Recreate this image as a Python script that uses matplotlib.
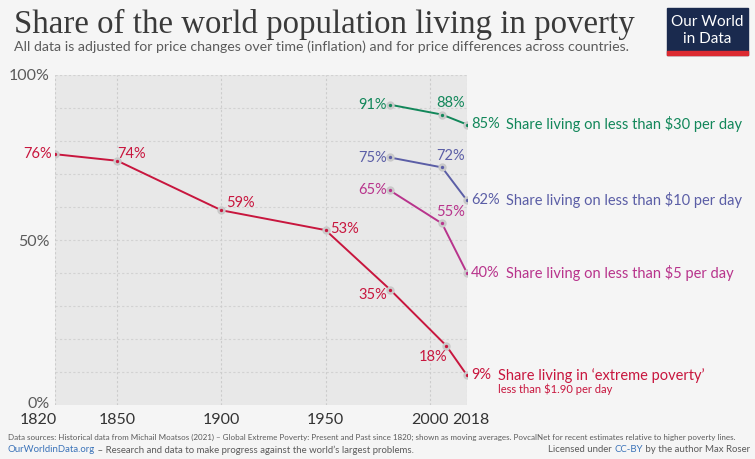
import matplotlib.pyplot as plt
import matplotlib.transforms as mtransforms
from matplotlib.patches import Rectangle

# data
years_extreme = [1820, 1850, 1900, 1950, 1981, 2008, 2018]
extreme = [76, 74, 59, 53, 35, 18, 9]

years_recent = [1981, 2006, 2018]
below30 = [91, 88, 85]
below10 = [75, 72, 62]
below5 = [65, 55, 40]

xticks = [1820, 1850, 1900, 1950, 2000, 2018]
yticks = [0, 50, 100]
ytick_labels = ['0%', '50%', '100%']

red = '#c8163e'
green = '#12875a'
blue = '#5b5ea6'
pink = '#b8348c'
grey_txt = '#5b5b5b'

plt.rcParams['font.family'] = ['Lato', 'DejaVu Sans']

fig = plt.figure(figsize=(7.55, 4.59), dpi=100)
fig.patch.set_facecolor('#f5f5f5')
ax = fig.add_axes([55/755, 54/459, 412/755, 330/459])
ax.set_facecolor('#e8e8e8')

ax.set_xlim(1820, 2018)
ax.set_ylim(0, 100)
for s in ax.spines.values():
    s.set_visible(False)

# dotted grid
for y in range(10, 101, 10):
    ax.axhline(y, color='#d2d2d2', lw=0.8, ls=(0, (2, 2)), zorder=0)
for x in xticks:
    ax.axvline(x, color='#cccccc', lw=0.8, ls=(0, (2, 2)), zorder=0)

ax.set_xticks(xticks)
ax.set_xticklabels([str(x) for x in xticks], fontsize=11.5, color='#333333')
ax.set_yticks(yticks)
ax.set_yticklabels(ytick_labels, fontsize=11.5, color=grey_txt)
ax.tick_params(axis='x', length=0, pad=5.5)
ax.tick_params(axis='y', length=0, pad=4)

# first year label sits left of its tick, last one nudged right
xlabs = ax.get_xticklabels()
xlabs[0].set_ha('right')
xlabs[0].set_transform(xlabs[0].get_transform()
                       + mtransforms.ScaledTranslation(2/100, 0, fig.dpi_scale_trans))
xlabs[-1].set_transform(xlabs[-1].get_transform()
                        + mtransforms.ScaledTranslation(4/100, 0, fig.dpi_scale_trans))
# lift the 0% label a little off the bottom
ylabs = ax.get_yticklabels()
ylabs[0].set_transform(ylabs[0].get_transform()
                       + mtransforms.ScaledTranslation(0, 2/100, fig.dpi_scale_trans))


def serie(x, y, c):
    ax.plot(x, y, color=c, lw=1.4, zorder=3)
    ax.plot(x, y, 'o', ms=6, mfc='#c9c9c9', mec='none', zorder=4)
    ax.plot(x, y, 'o', ms=2.4, color=c, mec='none', zorder=5)


def etiqueta(x, y, txt, c, dx, dy, ha='left', va='center', size=10.5):
    ax.annotate(txt, (x, y), xytext=(dx, dy), textcoords='offset points',
                ha=ha, va=va, color=c, fontsize=size, annotation_clip=False)


serie(years_extreme, extreme, red)
serie(years_recent, below30, green)
serie(years_recent, below10, blue)
serie(years_recent, below5, pink)

# value labels, extreme poverty
pos_extreme = [(-2, 0, 'right'), (0, 5, 'left'), (3, 5, 'left'), (3, 1, 'left'),
               (-2, -4, 'right'), (1, -8, 'right'), (3, 0, 'left')]
for x, y, p in zip(years_extreme, extreme, pos_extreme):
    etiqueta(x, y, f'{y}%', red, p[0], p[1], p[2])

for vals, c in [(below30, green), (below10, blue), (below5, pink)]:
    etiqueta(years_recent[0], vals[0], f'{vals[0]}%', c, -2, 0, 'right')
    etiqueta(years_recent[1], vals[1], f'{vals[1]}%', c, 6, 8, 'center')
    etiqueta(years_recent[2], vals[2], f'{vals[2]}%', c, 3, 0, 'left')

# series names on the right
etiqueta(2018, below30[-1], 'Share living on less than $30 per day', green, 28, 0)
etiqueta(2018, below10[-1], 'Share living on less than $10 per day', blue, 28, 0)
etiqueta(2018, below5[-1], 'Share living on less than $5 per day', pink, 28, 0)
etiqueta(2018, extreme[-1], 'Share living in \u2018extreme poverty\u2019', red, 22, 0)
etiqueta(2018, extreme[-1], 'less than $1.90 per day', red, 22, -10, size=8)

# title and subtitle
fig.text(14/755, 1 - 24/459, 'Share of the world population living in poverty',
         family='Liberation Serif', fontsize=23.7, color='#3a3a3a', va='center')
fig.text(14/755, 1 - 47/459,
         'All data is adjusted for price changes over time (inflation) and for price differences across countries.',
         fontsize=10.2, color=grey_txt, va='center')

# logo
fig.add_artist(Rectangle((667/755, 1 - 55/459), 81/755, 47/459,
                         transform=fig.transFigure, color='#1a2a4e'))
fig.add_artist(Rectangle((667/755, 1 - 55/459), 81/755, 4/459,
                         transform=fig.transFigure, color='#dc2a31'))
fig.text(707/755, 1 - 22/459, 'Our World', color='white', fontsize=11,
         ha='center', va='center')
fig.text(707/755, 1 - 39/459, 'in Data', color='white', fontsize=11,
         ha='center', va='center')

# footer
fig.text(8/755, 1 - 437/459,
         'Data sources: Historical data from Michail Moatsos (2021) \u2013 Global Extreme Poverty: Present and Past since 1820; '
         'shown as moving averages. PovcalNet for recent estimates relative to higher poverty lines.',
         fontsize=5.75, color=grey_txt, va='center')
t1 = fig.text(8/755, 1 - 450/459, 'OurWorldinData.org', fontsize=6.9,
              color='#3b73b9', va='center')
ax.annotate(' \u2013 Research and data to make progress against the world\u2019s largest problems.',
            xy=(1, 0.5), xycoords=t1, va='center', fontsize=6.9, color=grey_txt,
            annotation_clip=False)
t2 = fig.text(750/755, 1 - 450/459, ' by the author Max Roser', fontsize=6.9,
              color=grey_txt, va='center', ha='right')
t3 = ax.annotate('CC-BY', xy=(0, 0.5), xycoords=t2, va='center', ha='right',
                 fontsize=6.9, color='#3b73b9', annotation_clip=False)
ax.annotate('Licensed under ', xy=(0, 0.5), xycoords=t3, va='center', ha='right',
            fontsize=6.9, color=grey_txt, annotation_clip=False)

fig.savefig('out.png', dpi=100, facecolor=fig.get_facecolor())
